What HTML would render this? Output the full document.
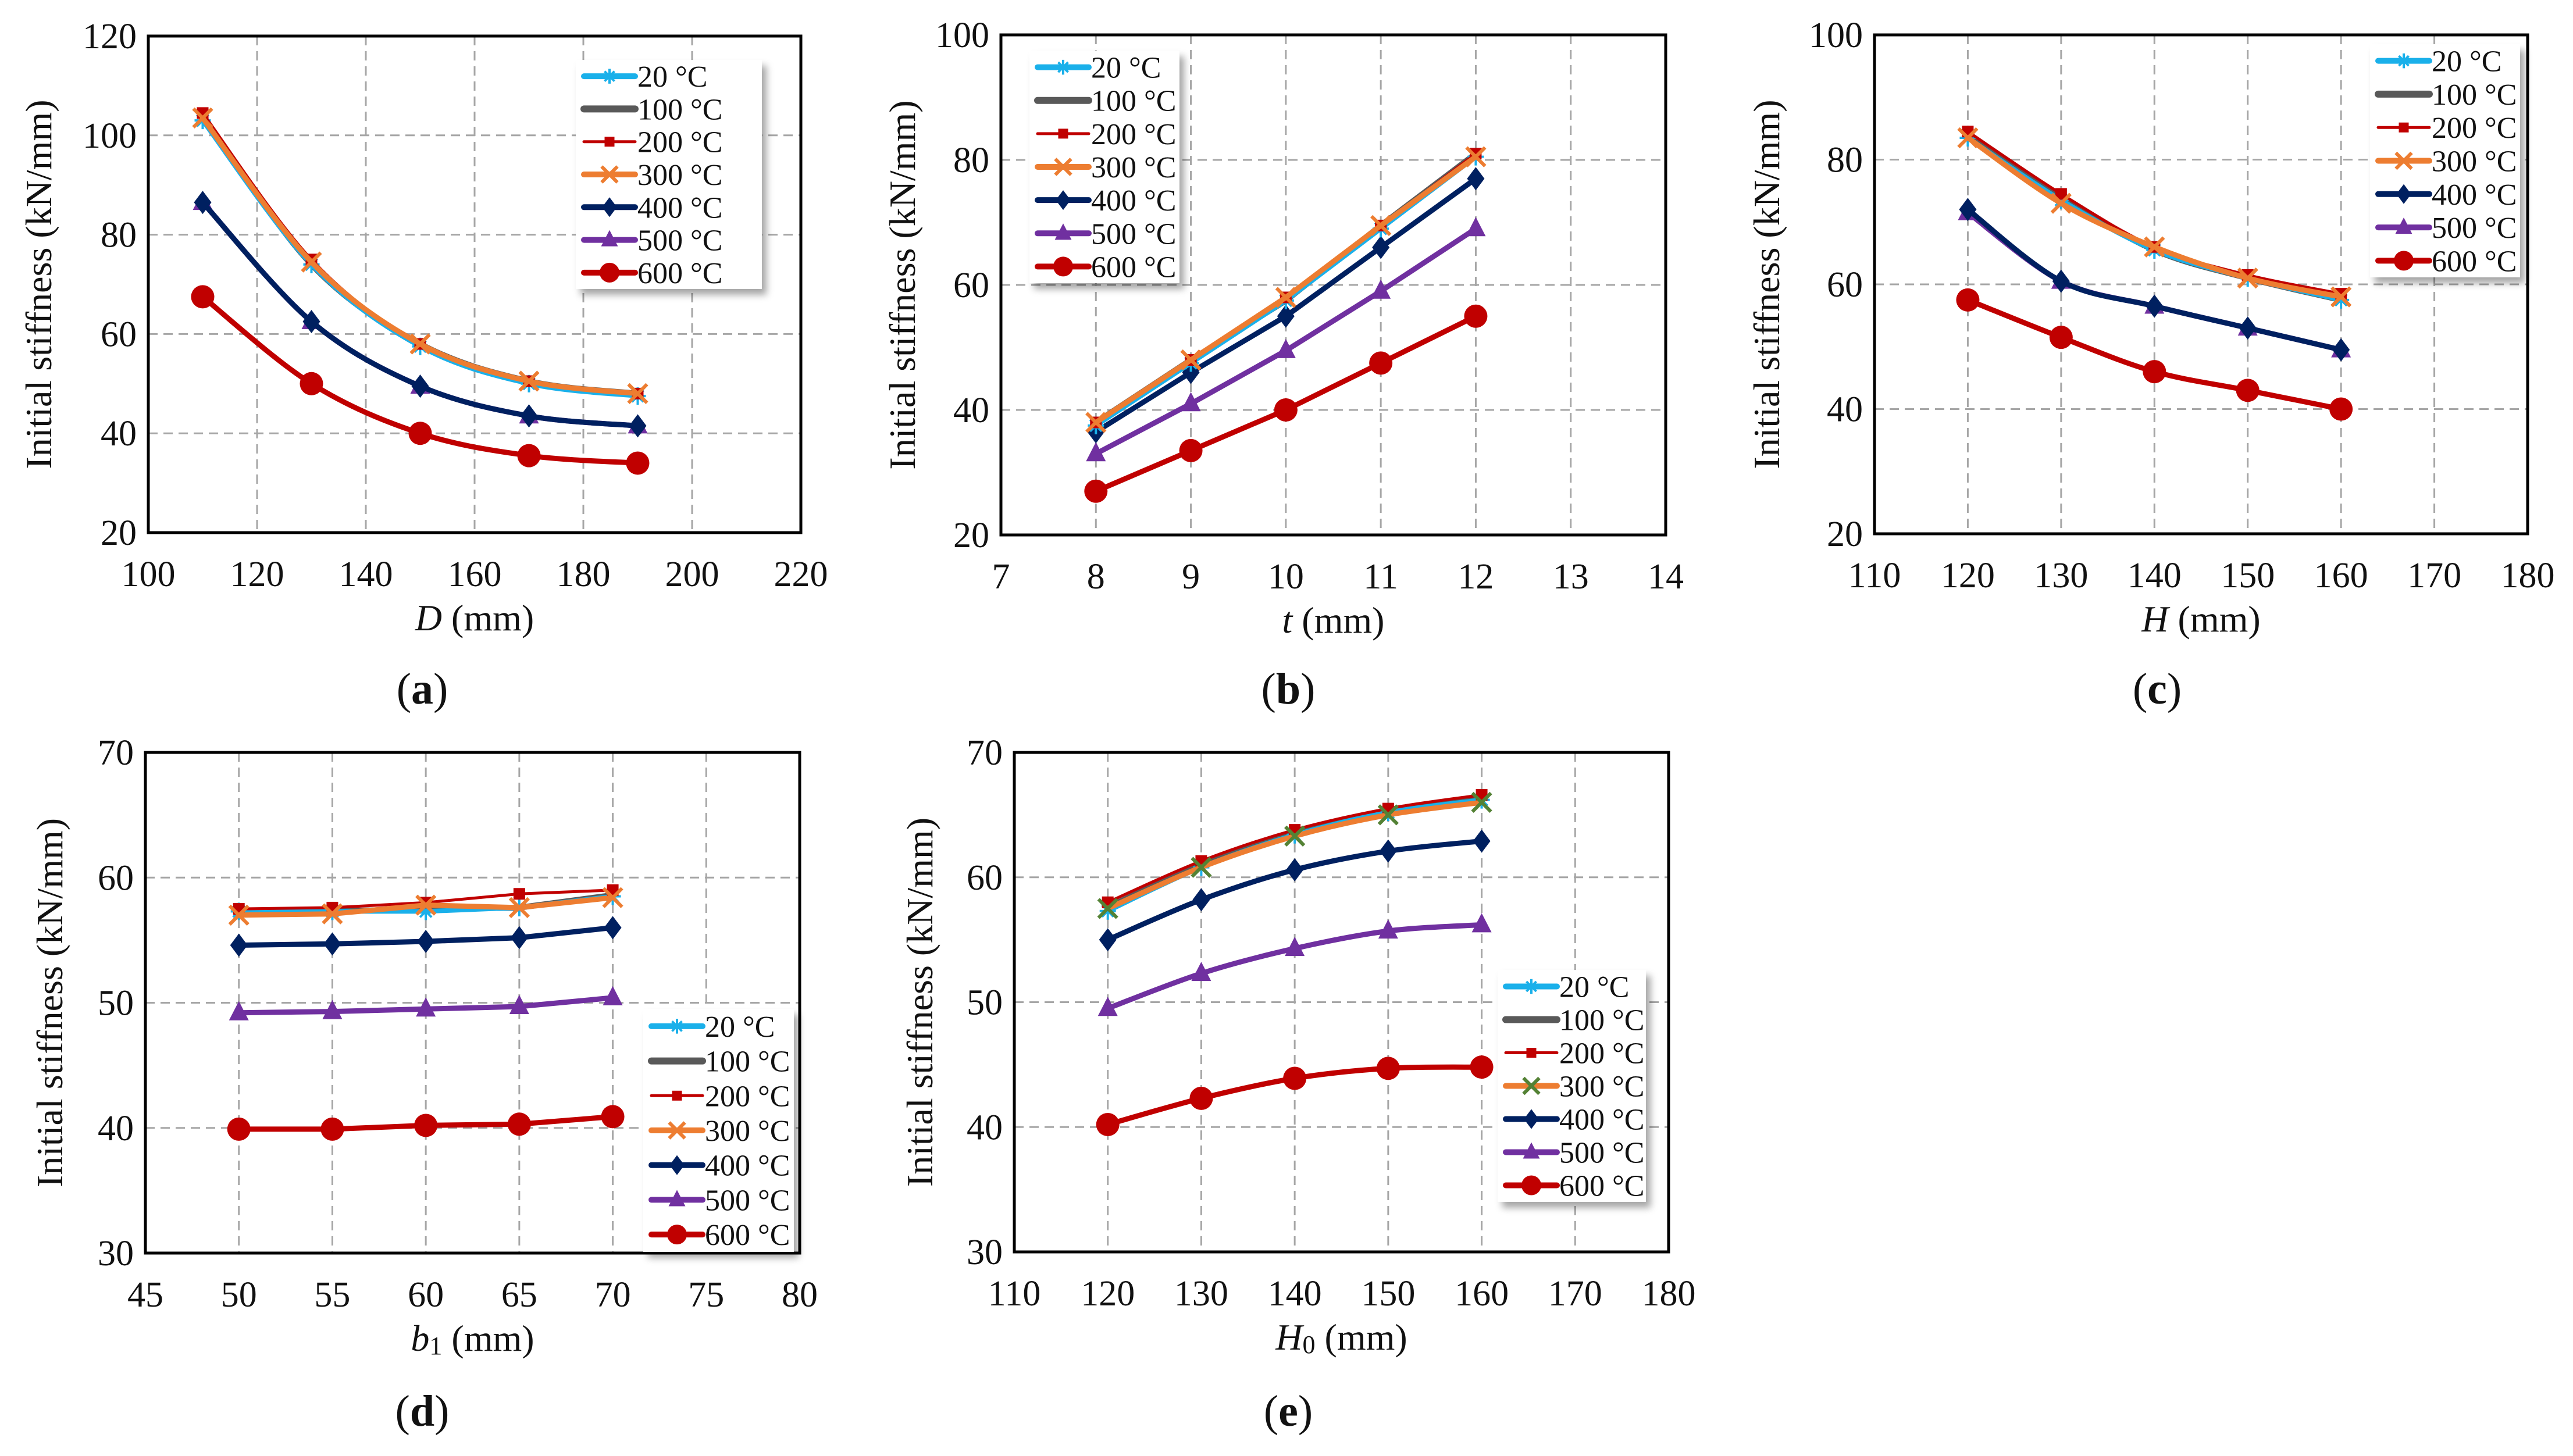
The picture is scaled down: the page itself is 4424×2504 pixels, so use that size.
<!DOCTYPE html>
<html><head><meta charset="utf-8"><style>
html,body{margin:0;padding:0;background:#fff;}
svg{display:block;}
svg text{font-family:"Liberation Serif","DejaVu Serif",serif;}
</style></head><body>
<svg id="fig" width="4424" height="2504" viewBox="0 0 4424 2504" xmlns="http://www.w3.org/2000/svg" font-family="Liberation Serif, serif">
<defs><filter id="sh" x="-10%" y="-10%" width="130%" height="130%"><feDropShadow dx="8" dy="10" stdDeviation="6" flood-color="#000" flood-opacity="0.35"/></filter></defs>
</svg>
<script>
// ---- data ----
const seriesNames = ["20 °C","100 °C","200 °C","300 °C","400 °C","500 °C","600 °C"];
const xA = [110,130,150,170,190];
const a20 = [103,74,57.5,50,47.5], a100=[104,74,58,50.5,48], a200=[104.5,75,58,50.5,48], a300=[103.5,74.5,58,50.5,48], a400=[86.5,62.5,49.5,43.5,41.5], a500=[86.5,62.5,49.5,43.5,41.5], a600=[67.5,50,40,35.5,34];
const xB = [8,9,10,11,12];
const b20=[37.5,47.5,57.5,69,80.5], b100=[38,48,57.5,69.5,81], b200=[38,48,58,69.5,81], b300=[38,48,58,69.5,80.5], b400=[36.5,46,55,66,77], b500=[33,41,49.5,59,69], b600=[27,33.5,40,47.5,55];
const xC = [120,130,140,150,160];
const c20=[83.5,73.5,65.5,61,57.5], c100=[84,74,65.5,61,57.5], c200=[84.5,74.5,66,61.5,58.5], c300=[83.5,73,66,61,58], c400=[72,60.5,56.5,53,49.5], c500=[71.5,60.5,56.5,53,49.5], c600=[57.5,51.5,46,43,40];
const xD = [50,55,60,65,70];
const d20=[57.3,57.3,57.3,57.6,58.5], d100=[57.3,57.3,57.5,57.6,58.6], d200=[57.5,57.6,58,58.7,59], d300=[57,57.1,57.8,57.6,58.4], d400=[54.6,54.7,54.9,55.2,56], d500=[49.2,49.3,49.5,49.7,50.4], d600=[39.9,39.9,40.2,40.3,40.9];
const xE = [120,130,140,150,160];
const e20=[57.3,60.8,63.4,65.2,66.2], e100=[57.6,61,63.6,65.3,66.3], e200=[58,61.3,63.8,65.5,66.6], e300=[57.5,60.8,63.3,65,66], e400=[55,58.2,60.6,62.1,62.9], e500=[49.5,52.3,54.3,55.7,56.2], e600=[40.2,42.3,43.9,44.7,44.8];
const ticksAx=[100,120,140,160,180,200,220], ticksAy=[20,40,60,80,100,120];
const ticksBx=[7,8,9,10,11,12,13,14], ticksBy=[20,40,60,80,100];
const ticksCx=[110,120,130,140,150,160,170,180], ticksCy=[20,40,60,80,100];
const ticksDx=[45,50,55,60,65,70,75,80], ticksDy=[30,40,50,60,70];
const ticksEx=[110,120,130,140,150,160,170,180], ticksEy=[30,40,50,60,70];

const NS="http://www.w3.org/2000/svg";
const svg=document.getElementById('fig');
const FF="Liberation Serif, DejaVu Serif, serif";
function mk(tag,attrs,parent){const e=document.createElementNS(NS,tag);for(const k in attrs)e.setAttribute(k,attrs[k]);if(tag==='text')e.setAttribute('font-family',FF);(parent||svg).appendChild(e);return e;}
const styles=[
 {c:"#1ab0ea",w:8,m:"star",mc:"#1ab0ea"},
 {c:"#595959",w:10,m:"none",mc:"#595959"},
 {c:"#c00000",w:5,m:"square",mc:"#c00000"},
 {c:"#ed7d31",w:9,m:"x",mc:"#ed7d31"},
 {c:"#002060",w:9,m:"diamond",mc:"#002060"},
 {c:"#7030a0",w:9,m:"tri",mc:"#7030a0"},
 {c:"#c00000",w:9,m:"circle",mc:"#c00000"}];
function marker(g,type,x,y,col,s){
 s=s||1;
 if(type==="circle")mk('circle',{cx:x,cy:y,r:20*s,fill:col},g);
 else if(type==="diamond")mk('polygon',{points:`${x},${y-20*s} ${x+15*s},${y} ${x},${y+20*s} ${x-15*s},${y}`,fill:col},g);
 else if(type==="tri")mk('polygon',{points:`${x},${y-20*s} ${x+17*s},${y+13*s} ${x-17*s},${y+13*s}`,fill:col},g);
 else if(type==="square")mk('rect',{x:x-10*s,y:y-10*s,width:20*s,height:20*s,fill:col},g);
 else if(type==="x"){mk('path',{d:`M${x-16*s},${y-16*s}L${x+16*s},${y+16*s}M${x+16*s},${y-16*s}L${x-16*s},${y+16*s}`,stroke:col,'stroke-width':6,fill:'none'},g);}
 else if(type==="star"){mk('path',{d:`M${x-14*s},${y}L${x+14*s},${y}M${x},${y-15*s}L${x},${y+15*s}M${x-10*s},${y-10*s}L${x+10*s},${y+10*s}M${x+10*s},${y-10*s}L${x-10*s},${y+10*s}`,stroke:col,'stroke-width':4,fill:'none'},g);}
}
function pathD(pts,smooth){
 if(!smooth)return pts.map((p,i)=>(i?'L':'M')+p[0].toFixed(1)+','+p[1].toFixed(1)).join('');
 let d='M'+pts[0][0]+','+pts[0][1];
 for(let i=0;i<pts.length-1;i++){const p0=pts[Math.max(0,i-1)],p1=pts[i],p2=pts[i+1],p3=pts[Math.min(pts.length-1,i+2)];
  const c1=[p1[0]+(p2[0]-p0[0])/6,p1[1]+(p2[1]-p0[1])/6],c2=[p2[0]-(p3[0]-p1[0])/6,p2[1]-(p3[1]-p1[1])/6];
  d+=`C${c1[0].toFixed(1)},${c1[1].toFixed(1)} ${c2[0].toFixed(1)},${c2[1].toFixed(1)} ${p2[0].toFixed(1)},${p2[1].toFixed(1)}`;}
 return d;}
function chart(cfg){
 const g=mk('g',{});
 
 
 const {L,R,T,B,xt,yt}=cfg;
 const sx=v=>L+(v-xt[0])/(xt[xt.length-1]-xt[0])*(R-L);
 const sy=v=>B-(v-yt[0])/(yt[yt.length-1]-yt[0])*(B-T);
 xt.forEach((v,i)=>{ if(i>0&&i<xt.length-1){const l=mk('line',{x1:sx(v),x2:sx(v),y1:T,y2:B,stroke:'#a6a6a6','stroke-width':3,'stroke-dasharray':'16 10'},g);}
  const t=mk('text',{x:sx(v),y:B+92,'font-size':62,'text-anchor':'middle',fill:'#111'},g);t.textContent=v;
  });
 yt.forEach((v,i)=>{ if(i>0&&i<yt.length-1){const l=mk('line',{x1:L,x2:R,y1:sy(v),y2:sy(v),stroke:'#a6a6a6','stroke-width':3,'stroke-dasharray':'16 10'},g);}
  const t=mk('text',{x:L-20,y:sy(v)+21,'font-size':62,'text-anchor':'end',fill:'#111'},g);t.textContent=v;
  });
 const fr=mk('rect',{x:L,y:T,width:R-L,height:B-T,fill:'none',stroke:'#000','stroke-width':5},g);
 
 const order=[5,4,6,1,0,2,3];
 order.forEach(i=>{const st=styles[i];const pts=cfg.xs.map((x,j)=>[sx(x),sy(cfg.ys[i][j])]);
  const sg=mk('g',{},g);
  mk('path',{d:pathD(pts,cfg.smooth),stroke:st.c,'stroke-width':st.w,fill:'none','stroke-linejoin':'round','stroke-linecap':'round'},sg);
  pts.forEach(p=>marker(sg,st.m,p[0],p[1],(i===3&&cfg.greenX)?'#548235':st.mc));});
 const lg=mk('g',{},g);
 const [lx,ly,lw,lh]=cfg.leg;
 mk('rect',{x:lx,y:ly,width:lw,height:lh,fill:'#fff',filter:'url(#sh)'},lg);
 const rh=lh/7;
 seriesNames.forEach((n,i)=>{const st=styles[i];const cy=ly+rh*(i+0.5);
  const e=mk('g',{},lg);
  mk('line',{x1:lx+14,x2:lx+102,y1:cy,y2:cy,stroke:st.c,'stroke-width':i==1?12:(i==2?5:10),'stroke-linecap':'round'},e);
  marker(e,st.m,lx+58,cy,(i===3&&cfg.greenX)?'#548235':st.mc,0.85);
  const t=mk('text',{x:lx+106,y:cy+18,'font-size':52,fill:'#111'},e);t.textContent=n;});
 const yt2=mk('text',{x:cfg.yx,y:(T+B)/2,'font-size':64,'text-anchor':'middle',transform:`rotate(-90 ${cfg.yx} ${(T+B)/2})`,fill:'#111'},g);
 yt2.textContent='Initial stiffness  (kN/mm)';
 const xtl=mk('text',{x:(L+R)/2,y:B+168,'font-size':64,'text-anchor':'middle',fill:'#111'},g);
 
 const it=mk('tspan',{'font-style':'italic'},xtl);it.textContent=cfg.xvar;
 if(cfg.sub){const s=mk('tspan',{'font-size':44,dy:6},xtl);s.textContent=cfg.sub;const r=mk('tspan',{dy:-6},xtl);r.textContent=' (mm)';}
 else{const r=mk('tspan',{},xtl);r.textContent=' (mm)';}
 const pl=mk('text',{x:cfg.plx,y:cfg.ply,'font-size':76,'text-anchor':'middle',fill:'#111'},g);
 
 pl.appendChild(document.createTextNode('('));const bb=mk('tspan',{'font-weight':'bold'},pl);bb.textContent=cfg.id;pl.appendChild(document.createTextNode(')'));
}
chart({id:'a',L:255,R:1377,T:62,B:916,xt:ticksAx,yt:ticksAy,xs:xA,ys:[a20,a100,a200,a300,a400,a500,a600],smooth:true,leg:[990,103,320,394],yx:88,xvar:'D',plx:726,ply:1210});
chart({id:'b',L:1721,R:2864,T:60,B:920,xt:ticksBx,yt:ticksBy,xs:xB,ys:[b20,b100,b200,b300,b400,b500,b600],smooth:false,leg:[1770,87,258,400],yx:1573,xvar:'t',plx:2215,ply:1210});
chart({id:'c',L:3223,R:4346,T:60,B:918,xt:ticksCx,yt:ticksCy,xs:xC,ys:[c20,c100,c200,c300,c400,c500,c600],smooth:true,leg:[4075,76,258,401],yx:3059,xvar:'H',plx:3709,ply:1210});
chart({id:'d',L:250,R:1375,T:1294,B:2155,xt:ticksDx,yt:ticksDy,xs:xD,ys:[d20,d100,d200,d300,d400,d500,d600],smooth:false,leg:[1106,1735,259,418],yx:107,xvar:'b',sub:'1',plx:726,ply:2452});
chart({id:'e',L:1744,R:2869,T:1294,B:2153,xt:ticksEx,yt:ticksEy,xs:xE,ys:[e20,e100,e200,e300,e400,e500,e600],smooth:true,greenX:true,leg:[2575,1668,255,399],yx:1603,xvar:'H',sub:'0',plx:2215,ply:2452});
</script>
</body></html>
